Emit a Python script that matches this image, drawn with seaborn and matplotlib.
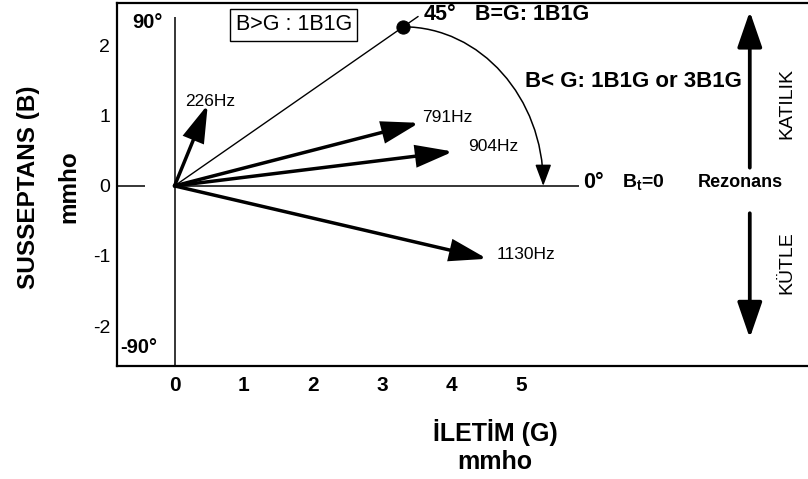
import numpy as np
import pandas as pd
import matplotlib
matplotlib.use("Agg")
import matplotlib.pyplot as plt
import seaborn as sns
from matplotlib.patches import FancyArrowPatch
from matplotlib.path import Path

# ---------------- data ----------------
freq_labels = ["226Hz", "791Hz", "904Hz", "1130Hz"]
conductance_G = [0.48, 3.53, 4.02, 4.51]      # İletim (G), mmho
susceptance_B = [1.16, 0.90, 0.49, -1.04]     # Susseptans (B), mmho
resonance_G = 3.30                            # 45° point (B = G)
resonance_B = 2.27
arc_end_G = 5.32                              # arc reaches B = 0 here
x_ticks = [0, 1, 2, 3, 4, 5]
x_tick_labels = ["0", "1", "2", "3", "4", "5"]
y_ticks = [2, 1, 0, -1, -2]
y_tick_labels = ["2", "1", "0", "-1", "-2"]

# label offsets (points) relative to arrow tips -- style only
label_offsets = [(-16, 2), (2, 4), (11, 4), (6.5, 3)]

sns.set_theme(style="white", rc={
    "axes.edgecolor": "black", "text.color": "black",
    "axes.labelcolor": "black", "xtick.color": "black",
    "ytick.color": "black",
})
plt.rcParams['font.family'] = ['Liberation Sans', 'DejaVu Sans']
plt.rcParams['axes.unicode_minus'] = False
plt.rcParams['mathtext.fontset'] = 'custom'
plt.rcParams['mathtext.rm'] = 'Liberation Sans:bold'
plt.rcParams['mathtext.it'] = 'Liberation Sans:bold'
plt.rcParams['mathtext.bf'] = 'Liberation Sans:bold'

fig = plt.figure(figsize=(8.08, 4.79), dpi=100)
ax = fig.add_axes([117 / 808, 113 / 479, 691 / 808, 363 / 479])
ax.set_xlim(-0.83, 9.14)
ax.set_ylim(-2.57, 2.61)

for s in ["left", "top", "bottom"]:
    ax.spines[s].set_linewidth(1.6)
    ax.spines[s].set_color("black")
ax.spines["right"].set_visible(False)

ax.set_xticks(x_ticks)
ax.set_xticklabels(x_tick_labels, fontweight="bold", fontsize=15)
ax.set_yticks(y_ticks)
ax.set_yticklabels(y_tick_labels, fontsize=14)
ax.tick_params(axis="both", length=0)
ax.tick_params(axis="x", pad=7)
ax.tick_params(axis="y", pad=5)

ax.set_xlabel("İLETİM (G)\nmmho", fontsize=18, fontweight="bold", linespacing=1.2)
ax.xaxis.set_label_coords(0.547, -0.222)
ax.xaxis.label.set_va("center")
ax.set_ylabel("SUSSEPTANS (B)\nmmho", fontsize=17.5, fontweight="bold", linespacing=2.0)
ax.yaxis.set_label_coords(-0.099, 0.493)
ax.yaxis.label.set_va("center")

# axis lines inside the plot
ax.vlines(0, -2.57, 2.41, color="black", lw=1.1)
ax.hlines(0, 0, 5.83, color="black", lw=1.1)
ax.hlines(0, -0.83, -0.43, color="black", lw=1.1)

# 45° reference line through the resonance point
ext = 1.065
line_df = pd.DataFrame({"G": [0, resonance_G * ext], "B": [0, resonance_B * ext]})
sns.lineplot(data=line_df, x="G", y="B", color="black", lw=1.0, ax=ax, sort=False)
sns.scatterplot(x=[resonance_G], y=[resonance_B], color="black", s=90, ax=ax,
                edgecolor="black", zorder=5)

# frequency vectors
for lab, g, b, off in zip(freq_labels, conductance_G, susceptance_B, label_offsets):
    ax.annotate("", xy=(g, b), xytext=(0, 0),
                arrowprops=dict(arrowstyle="-|>,head_length=1.1,head_width=0.33",
                                lw=2.5, color="black", shrinkA=0, shrinkB=0,
                                mutation_scale=20, joinstyle="miter"))
    ax.annotate(lab, xy=(g, b), xytext=off, textcoords="offset points",
                ha="left", va="center", fontsize=12.5)

# quarter-ellipse arc from 45° point down to B = 0
k = 0.5523
rx = arc_end_G - resonance_G
ry = resonance_B
verts = [(resonance_G, ry), (resonance_G + k * rx, ry),
         (resonance_G + rx, k * ry), (resonance_G + rx, 0)]
codes = [Path.MOVETO, Path.CURVE4, Path.CURVE4, Path.CURVE4]
arc = FancyArrowPatch(path=Path(verts, codes), arrowstyle="-|>,head_length=1.2,head_width=0.45",
                      mutation_scale=11, color="black", lw=1.1, transform=ax.transData)
ax.add_patch(arc)

# KATILIK / KÜTLE arrows
ax.annotate("", xy=(8.30, 2.49), xytext=(8.30, 0.26),
            arrowprops=dict(arrowstyle="-|>,head_length=1.1,head_width=0.38",
                            lw=2.7, color="black", shrinkA=0, shrinkB=0, mutation_scale=20))
ax.annotate("", xy=(8.30, -2.17), xytext=(8.30, -0.39),
            arrowprops=dict(arrowstyle="-|>,head_length=1.1,head_width=0.38",
                            lw=2.7, color="black", shrinkA=0, shrinkB=0, mutation_scale=20))
ax.text(8.84, 1.17, "KATILIK", rotation=90, ha="center", va="center", fontsize=14)
ax.text(8.84, -1.10, "KÜTLE", rotation=90, ha="center", va="center", fontsize=14)

# annotations
ax.text(-0.61, 2.33, "90°", ha="left", va="center", fontsize=14.5, fontweight="bold")
ax.text(-0.78, -2.31, "-90°", ha="left", va="center", fontsize=14.5, fontweight="bold")
ax.text(1.72, 2.30, "B>G : 1B1G", ha="center", va="center", fontsize=15.5,
        bbox=dict(boxstyle="square,pad=0.25", fc="white", ec="black", lw=1.0))
ax.text(3.59, 2.44, "45°", ha="left", va="center", fontsize=15.5, fontweight="bold")
ax.text(4.33, 2.44, "B=G: 1B1G", ha="left", va="center", fontsize=15.5, fontweight="bold")
ax.text(5.06, 1.49, "B< G: 1B1G or 3B1G", ha="left", va="center", fontsize=16, fontweight="bold")
ax.text(5.89, 0.05, "0°", ha="left", va="center", fontsize=15.5, fontweight="bold")
ax.text(6.45, 0.05, r"B$_\mathrm{t}$=0", ha="left", va="center", fontsize=14, fontweight="bold")
ax.text(8.17, 0.05, "Rezonans", ha="center", va="center", fontsize=13, fontweight="bold")

fig.savefig("out.png", dpi=100)
